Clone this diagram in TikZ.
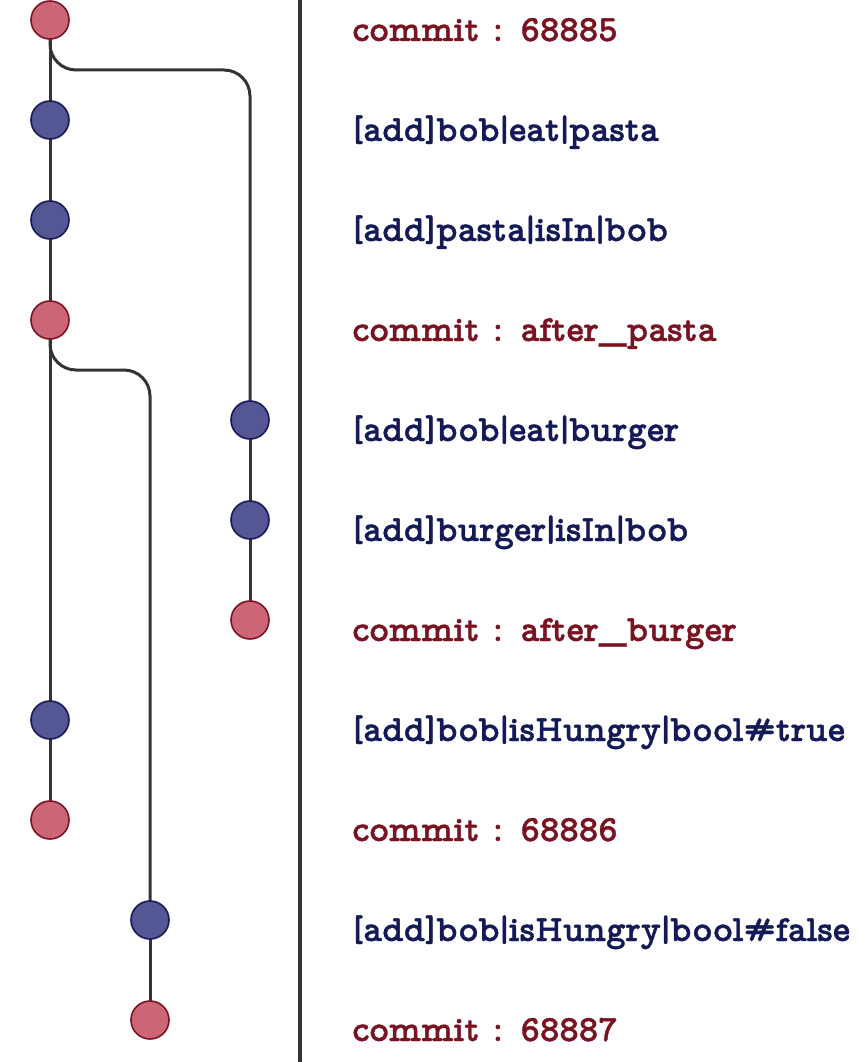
\documentclass[tikz,border=0pt]{standalone}
\usepackage{fontspec}
\newfontfamily\lblfont{lmmonoproplt10-bold}[Extension=.otf, FakeBold=1]
\newcommand\vbar{\makebox[9pt]{|}}
\definecolor{redfill}{RGB}{204,102,118}
\definecolor{reddraw}{RGB}{125,20,38}
\definecolor{bluefill}{RGB}{85,86,148}
\definecolor{bluedraw}{RGB}{22,26,90}
\definecolor{redtext}{RGB}{122,18,34}
\definecolor{bluetext}{RGB}{20,26,88}
\definecolor{linec}{RGB}{51,51,51}
\tikzset{
  commitnode/.style={circle, minimum size=38pt, inner sep=0pt, fill=redfill, draw=reddraw, line width=1.6pt},
  addnode/.style={circle, minimum size=38pt, inner sep=0pt, fill=bluefill, draw=bluedraw, line width=1.6pt},
  lbl/.style={anchor=base west, inner sep=0pt, font=\lblfont\fontsize{37}{44}\selectfont},
  redlbl/.style={lbl, text=redtext},
  bluelbl/.style={lbl, text=bluetext},
  edge/.style={draw=linec, line width=3pt},
  divider/.style={draw=linec, line width=4pt}
}
\begin{document}
\begin{tikzpicture}[x=1pt,y=-1pt]
\useasboundingbox (0,0) rectangle (858,1062);
% divider
\coordinate (dtop) at (300,0);
\coordinate (dbot) at (300,1062);
\draw[divider] (dtop) -- (dbot);
% edges first (behind nodes)
\coordinate (c0) at (50,20);
\coordinate (c1) at (50,120);
\coordinate (c2) at (50,220);
\coordinate (c3) at (50,320);
\coordinate (c4) at (250,420);
\coordinate (c5) at (250,520);
\coordinate (c6) at (250,620);
\coordinate (c7) at (50,720);
\coordinate (c8) at (50,820);
\coordinate (c9) at (150,920);
\coordinate (c10) at (150,1020);
\draw[edge] (c0) -- (c1) -- (c2) -- (c3) -- (c7) -- (c8);
\draw[edge] (c4) -- (c5) -- (c6);
\draw[edge] (c9) -- (c10);
\draw[edge, rounded corners=26pt] (c0) -- (50,70) -- (250,70) -- (c4);
\draw[edge, rounded corners=26pt] (c3) -- (50,370) -- (150,370) -- (c9);
% nodes
\node[commitnode] (n0) at (c0) {};
\node[addnode] (n1) at (c1) {};
\node[addnode] (n2) at (c2) {};
\node[commitnode] (n3) at (c3) {};
\node[addnode] (n4) at (c4) {};
\node[addnode] (n5) at (c5) {};
\node[commitnode] (n6) at (c6) {};
\node[addnode] (n7) at (c7) {};
\node[commitnode] (n8) at (c8) {};
\node[addnode] (n9) at (c9) {};
\node[commitnode] (n10) at (c10) {};
% labels
\node[redlbl] (t0) at (352,41) {commit : 68885};
\node[bluelbl] (t1) at (352,141) {[add]bob\vbar eat\vbar pasta};
\node[bluelbl] (t2) at (352,241) {[add]pasta\vbar isIn\vbar bob};
\node[redlbl] (t3) at (352,341) {commit : after\_pasta};
\node[bluelbl] (t4) at (352,441) {[add]bob\vbar eat\vbar burger};
\node[bluelbl] (t5) at (352,541) {[add]burger\vbar isIn\vbar bob};
\node[redlbl] (t6) at (352,641) {commit : after\_burger};
\node[bluelbl] (t7) at (352,741) {[add]bob\vbar isHungry\vbar bool\#true};
\node[redlbl] (t8) at (352,841) {commit : 68886};
\node[bluelbl] (t9) at (352,941) {[add]bob\vbar isHungry\vbar bool\#false};
\node[redlbl] (t10) at (352,1041) {commit : 68887};
\end{tikzpicture}
\end{document}
